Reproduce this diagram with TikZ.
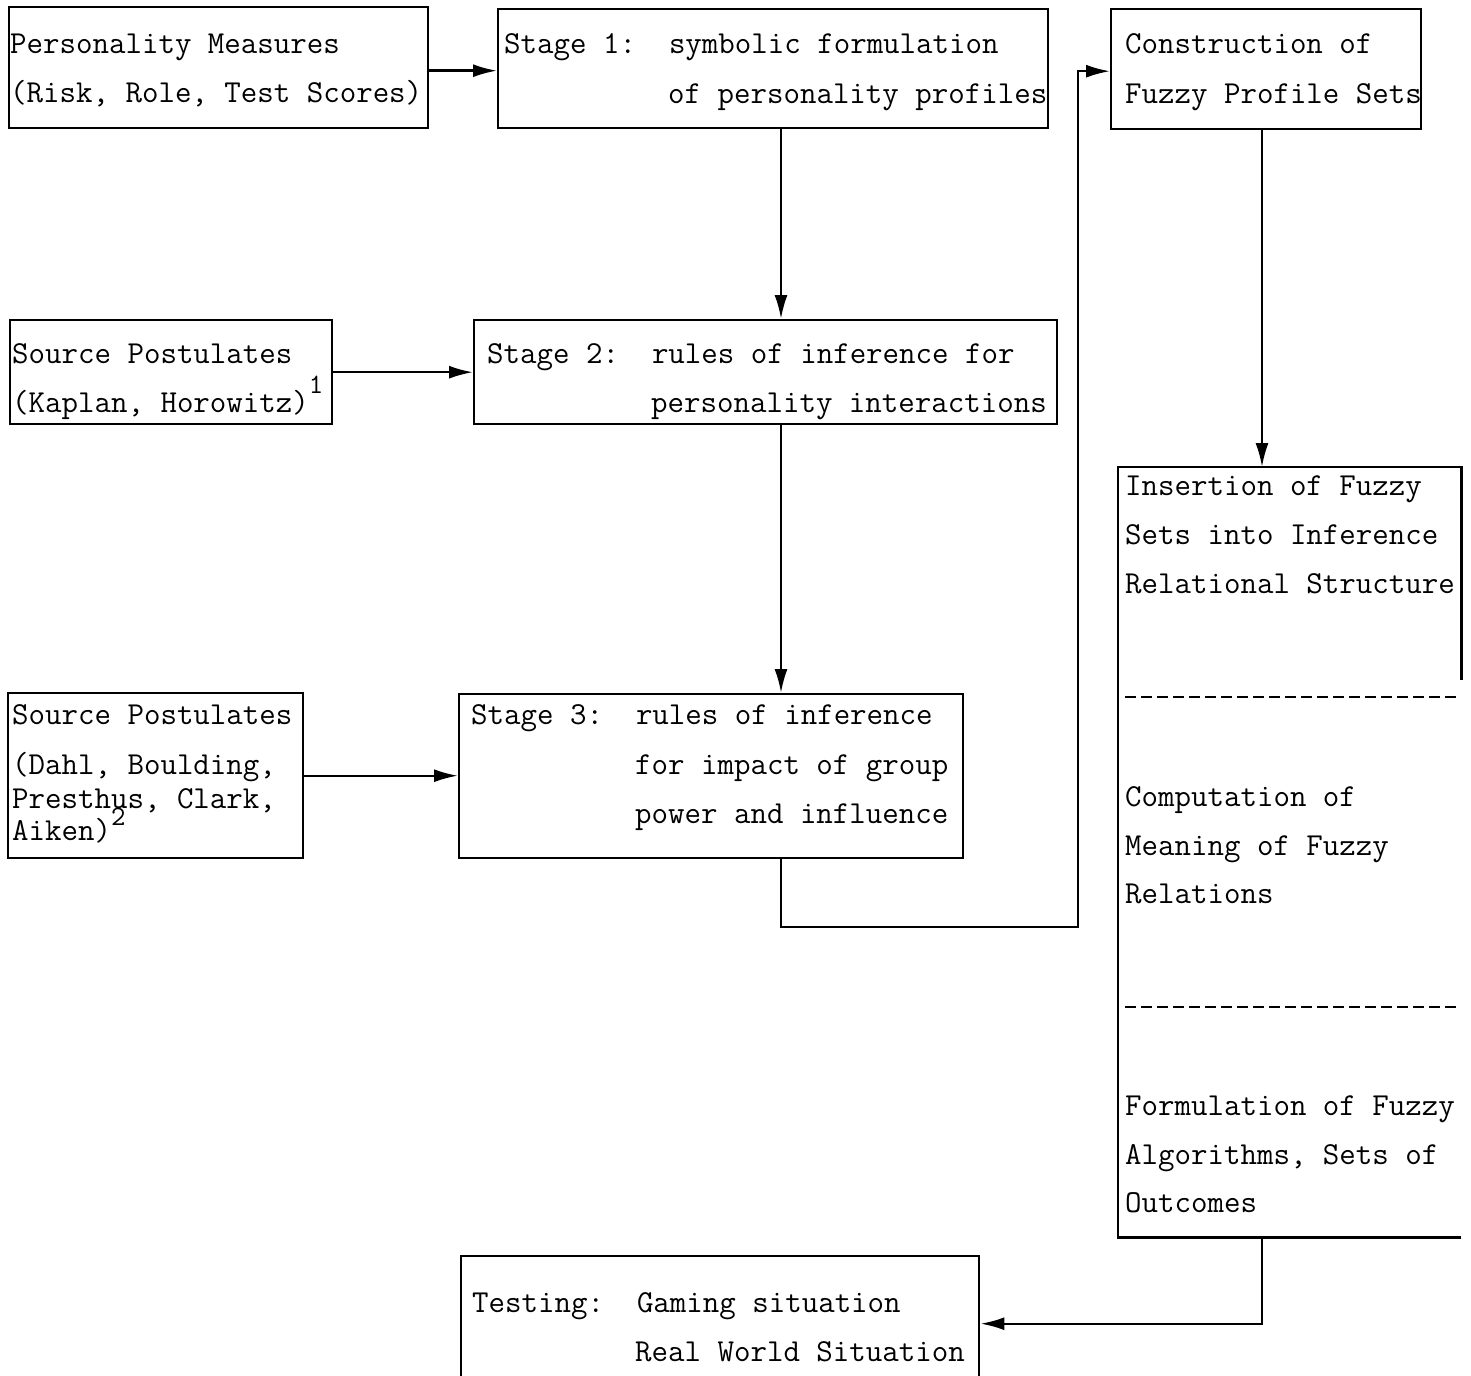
\documentclass[tikz,border=0pt]{standalone}
\usepackage{fontspec}
\usetikzlibrary{arrows.meta}
\begin{document}
\begin{tikzpicture}[x=1pt,y=-1pt,
  box/.style={draw, line width=2.4pt, inner sep=0pt, anchor=north west},
  txt/.style={anchor=base west, inner sep=0pt, font=\fontsize{32}{49}\selectfont\ttfamily\frenchspacing},
  arr/.style={line width=2.4pt, -{Latex[length=24pt,width=13pt]}},
  ln/.style={line width=2.4pt}]
\useasboundingbox[fill=white] (0,0) rectangle (1471,1375);
% boxes
\node[box, minimum width=419pt, minimum height=121pt] (pm) at (8,6) {};
\node[box, minimum width=550pt, minimum height=119pt] (s1) at (497,8) {};
\node[box, minimum width=310pt, minimum height=120pt] (cons) at (1110,8) {};
\node[box, minimum width=322pt, minimum height=104pt] (sp1) at (9,319) {};
\node[box, minimum width=583pt, minimum height=104pt] (s2) at (473,319) {};
\node[box, minimum width=295pt, minimum height=165pt] (sp2) at (7,692) {};
\node[box, minimum width=504pt, minimum height=164pt] (s3) at (458,693) {};
\node[anchor=north west, inner sep=0pt, minimum width=343pt, minimum height=770pt] (tall) at (1118,467) {};
\node[box, minimum width=518pt, minimum height=125pt] (test) at (460,1255) {};
% tall box outline (right side open below)
\draw[ln] (tall.south east) -- (tall.south west) -- (tall.north west) -- (tall.north east) -- ++(0,213);
\draw[ln, dash pattern=on 11pt off 5pt] (1125,697) -- (1460,697);
\draw[ln, dash pattern=on 11pt off 5pt] (1125,1007) -- (1460,1007);
% texts
\node[txt] (t1) at (10,54) {Personality Measures};
\node[txt] (t2) at (10,103) {(Risk, Role, Test Scores)};
\node[txt] (t3) at (504,54) {Stage 1:~~symbolic formulation};
\node[txt] (t4) at (668,104) {of personality profiles};
\node[txt] (t5) at (1125,54) {Construction of};
\node[txt] (t6) at (1125,104) {Fuzzy Profile Sets};
\node[txt] (t7) at (12,363) {Source Postulates};
\node[txt] (t8) at (12,412) {(Kaplan, Horowitz)\raisebox{19pt}{\fontsize{28}{28}\selectfont 1}};
\node[txt] (t9) at (487,363) {Stage 2:~~rules of inference for};
\node[txt] (t10) at (651,412) {personality interactions};
\node[txt] (t11) at (12,724) {Source Postulates};
\node[txt] (t12) at (12,774) {(Dahl, Boulding,};
\node[txt] (t13) at (12,808) {Presthus, Clark,};
\node[txt] (t14) at (12,840) {Aiken)\raisebox{15pt}{\fontsize{28}{28}\selectfont 2}};
\node[txt] (t15) at (471,724) {Stage 3:~~rules of inference};
\node[txt] (t16) at (635,774) {for impact of group};
\node[txt] (t17) at (635,823) {power and influence};
\node[txt] (t18) at (1125,495) {Insertion of Fuzzy};
\node[txt] (t19) at (1125,544) {Sets into Inference};
\node[txt] (t20) at (1125,593) {Relational Structure};
\node[txt] (t21) at (1125,806) {Computation of};
\node[txt] (t22) at (1125,855) {Meaning of Fuzzy};
\node[txt] (t23) at (1125,903) {Relations};
\node[txt] (t24) at (1125,1115) {Formulation of Fuzzy};
\node[txt] (t25) at (1125,1164) {Algorithms, Sets of};
\node[txt] (t26) at (1125,1212) {Outcomes};
\node[txt] (t27) at (472,1312) {Testing:~~Gaming situation};
\node[txt] (t28) at (635,1361) {Real World Situation};
% helper coordinates
\coordinate (x1) at (781,0);
\coordinate (x2) at (1262,0);
\coordinate (j) at (1078,927);
% connectors
\draw[arr] ([yshift=-3pt]pm.east) -- ([yshift=-3pt]pm.east -| s1.west);
\draw[arr] (s1.south -| x1) -- (s2.north -| x1);
\draw[arr] (s2.south -| x1) -- (s3.north -| x1);
\draw[arr] (sp1.east) -- (sp1.east -| s2.west);
\draw[arr] (sp2.east) -- (sp2.east -| s3.west);
\draw[arr] (s3.south -| x1) |- (j) |- ([yshift=-2pt]cons.west);
\draw[arr] (cons.south -| x2) -- (tall.north -| x2);
\draw[arr] (tall.south -| x2) |- ([yshift=-5pt]test.east);
\end{tikzpicture}
\end{document}
